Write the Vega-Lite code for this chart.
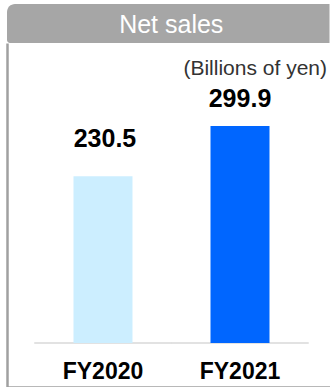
{
  "$schema": "https://vega.github.io/schema/vega-lite/v6.json",
  "padding": {"left": 7, "top": 4, "right": 0, "bottom": 0},
  "spacing": 0,
  "bounds": "flush",
  "config": {"font": "Liberation Sans", "view": {"stroke": null}},
  "vconcat": [
    {
      "width": 322.5,
      "height": 39,
      "data": {"values": [{"label": "Net sales"}]},
      "layer": [
        {
          "mark": {"type": "rect", "color": "#a6a6a6", "cornerRadiusTopLeft": 8, "cornerRadiusBottomLeft": 3},
          "encoding": {}
        },
        {
          "mark": {"type": "text", "color": "white", "fontSize": 25, "dy": 1, "dx": 3},
          "encoding": {"text": {"field": "label"}}
        }
      ]
    },
    {
      "width": 322.5,
      "height": 344,
      "view": {"fill": "white", "stroke": null},
      "title": {
        "text": "(Billions of yen)",
        "orient": "top",
        "anchor": "end",
        "baseline": "alphabetic",
        "offset": -31,
        "dx": -2.5,
        "dy": 22,
        "fontSize": 21,
        "fontWeight": "normal",
        "color": "#333333"
      },
      "data": {"values": [
        {"year": "FY2020", "value": 230.5},
        {"year": "FY2021", "value": 299.9}
      ]},
      "encoding": {
        "x": {
          "field": "year",
          "type": "nominal",
          "sort": null,
          "scale": {"paddingOuter": 0.177, "paddingInner": 0, "align": 0.567},
          "axis": {
            "title": null,
            "domainColor": "#a0a0a0",
            "domainWidth": 2.5,
            "ticks": false,
            "tickSize": 0,
            "labelAngle": 0,
            "labelFontSize": 23,
            "labelFontWeight": "bold",
            "labelColor": "#000000",
            "labelBaseline": "alphabetic",
            "labelPadding": -9,
            "grid": false
          }
        },
        "y": {
          "field": "value",
          "type": "quantitative",
          "scale": {"domain": [-60.8, 414.6], "nice": false, "zero": false},
          "axis": {
            "title": null,
            "labels": false,
            "ticks": false,
            "grid": false,
            "domainColor": "#a0a0a0",
            "domainWidth": 2.5
          }
        }
      },
      "layer": [
        {
          "mark": {"type": "tick", "orient": "horizontal", "size": 137.5, "thickness": 1.5, "color": "#d9d9d9", "opacity": 1},
          "encoding": {"y": {"datum": 0}}
        },
        {
          "mark": {"type": "bar", "width": 59},
          "encoding": {
            "y2": {"datum": 0},
            "color": {
              "field": "year",
              "type": "nominal",
              "scale": {"domain": ["FY2020", "FY2021"], "range": ["#cceeff", "#0066ff"]},
              "legend": null
            }
          }
        },
        {
          "transform": [{"filter": "datum.year === 'FY2020'"}],
          "mark": {"type": "text", "fontSize": 25, "fontWeight": "bold", "color": "#000000", "baseline": "alphabetic", "dy": -29, "dx": 2},
          "encoding": {"text": {"field": "value", "type": "quantitative", "format": ".1f"}}
        },
        {
          "transform": [{"filter": "datum.year === 'FY2021'"}],
          "mark": {"type": "text", "fontSize": 25, "fontWeight": "bold", "color": "#000000", "baseline": "alphabetic", "dy": -19},
          "encoding": {"text": {"field": "value", "type": "quantitative", "format": ".1f"}}
        }
      ]
    }
  ]
}
